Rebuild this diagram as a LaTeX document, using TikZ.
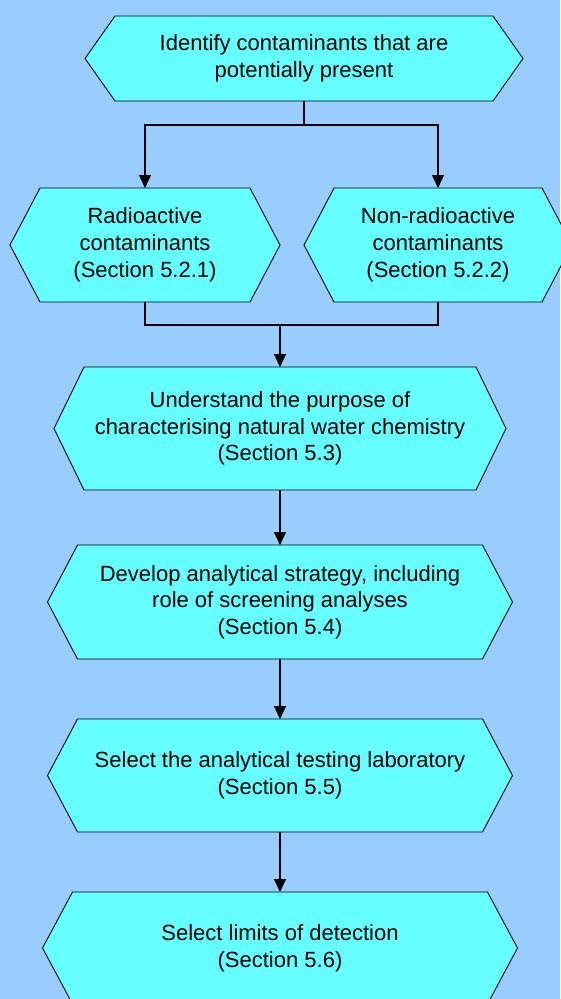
\documentclass[tikz,border=0pt]{standalone}
\usepackage{fontspec}
\setmainfont{Liberation Sans}
\usetikzlibrary{arrows.meta}
\definecolor{bgblue}{HTML}{99CCFF}
\definecolor{boxcyan}{HTML}{66FFFF}
\tikzset{
  hexa/.style={fill=boxcyan, draw=black, line width=0.9pt, line join=miter},
  lbl/.style={align=center, inner sep=0pt, outer sep=0pt, font=\fontsize{22}{26.7}\selectfont, text=black},
  conn/.style={draw=black, line width=1.2pt},
  arr/.style={conn, -{Triangle[width=12pt,length=13pt]}},
}
% name, cx, cy, half width, half height, text
\newcommand\hexbox[6]{%
  \path[hexa] (#2-#4,#3) -- (#2-#4+30,#3-#5) -- (#2+#4-30,#3-#5) -- (#2+#4,#3)
     -- (#2+#4-30,#3+#5) -- (#2-#4+30,#3+#5) -- cycle;
  \node[lbl, minimum width=2*#4, minimum height=2*#5] (#1) at (#2,#3) {#6};}
\begin{document}
\begin{tikzpicture}[x=1pt,y=-1pt]
\useasboundingbox (0,0) rectangle (560,999);
\fill[bgblue] (0,0) rectangle (560,999);
\hexbox{n1}{304}{58.5}{219}{42.5}{Identify contaminants that are\\potentially present}
\hexbox{n2}{145}{245}{135}{57}{Radioactive\\contaminants\\(Section 5.2.1)}
\hexbox{n3}{438}{245}{134}{57}{Non-radioactive\\contaminants\\(Section 5.2.2)}
\hexbox{n4}{280}{428.5}{226}{61.5}{Understand the purpose of\\characterising natural water chemistry\\(Section 5.3)}
\hexbox{n5}{280}{602}{232.5}{57}{Develop analytical strategy, including\\role of screening analyses\\(Section 5.4)}
\hexbox{n6}{280}{775.5}{232.5}{56.5}{Select the analytical testing laboratory\\(Section 5.5)}
\hexbox{n7}{280}{948}{237.5}{56}{Select limits of detection\\(Section 5.6)}
\coordinate (j1) at (304,125);
\draw[conn] (n1.south) -- (j1);
\draw[arr] (j1) -| (n2.north);
\draw[arr] (j1) -| (n3.north);
\coordinate (j2) at (280,325);
\draw[conn] (n2.south) |- (j2);
\draw[conn] (n3.south) |- (j2);
\draw[arr] (j2) -- (n4.north);
\draw[arr] (n4.south) -- (n5.north);
\draw[arr] (n5.south) -- (n6.north);
\draw[arr] (n6.south) -- (n7.north);
\end{tikzpicture}
\end{document}
